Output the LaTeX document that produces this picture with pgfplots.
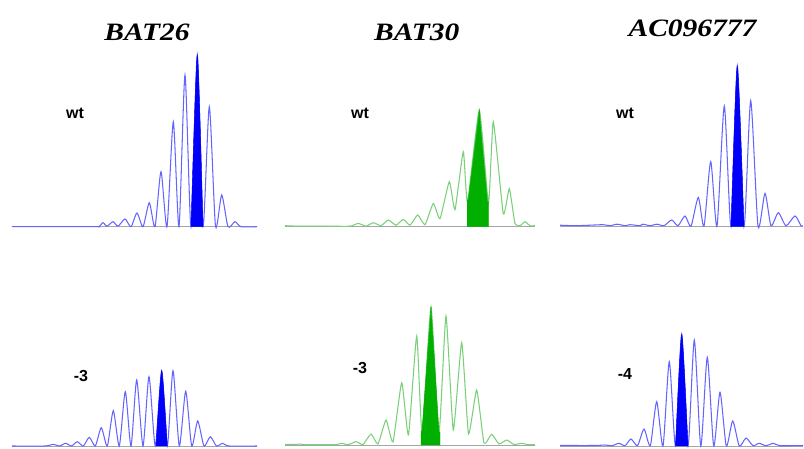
\documentclass[border=0pt]{standalone}
\usepackage{pgfplots}
\pgfplotsset{compat=1.18}
\usepackage{graphicx}
\usepackage{fontspec}
\setmainfont{Liberation Serif}
\setsansfont{Liberation Sans}
\definecolor{trblue}{RGB}{100,100,255}
\definecolor{fillblue}{RGB}{0,0,250}
\definecolor{trgreen}{RGB}{120,208,120}
\definecolor{fillgreen}{RGB}{0,175,0}
\definecolor{basegray}{RGB}{165,165,165}
\pgfplotsset{
  panel/.style={hide axis, x=1pt, y=1pt, anchor=south west, clip=false, ymin=0},
  trace/.style={smooth, tension=0.4, line width=1.05pt, no marks},
  gtrace/.style={smooth, tension=0.28, line width=1.05pt, no marks},
}
\tikzset{
  ttl/.style={font=\fontsize{25}{30}\selectfont\bfseries\itshape},
  lbl/.style={font=\fontsize{16}{18}\selectfont\sffamily\bfseries},
}
\newcommand{\ttltext}[1]{\scalebox{1.18}[1]{#1}}
\begin{document}
\begin{tikzpicture}
\path[use as bounding box] (0,0) rectangle (804pt,448pt);
% ---------- BAT26 wt ----------
\begin{axis}[panel, at={(12pt,221.3pt)}, xmin=12, xmax=257, ymax=180]
\addplot[basegray, line width=0.8pt] coordinates {(12,0) (257,0)};
\addplot[trace, trblue] coordinates {(12,0) (95,0) (99,0) (103,4) (107,0.5) (113,5) (118,0.5) (125,7.7) (131,0) (137,13.7) (143,0) (149.3,24) (155,0) (161,55) (167,0) (173.3,105) (179,0) (185,151.7) (191,0) (197.3,171.7) (203,0) (209.3,120) (215.5,0.5) (221.7,31.7) (228,0) (235,5) (241,0) (257,0)};
\addplot[fillblue, fill=fillblue, smooth, tension=0.4] coordinates {(191,0) (197.3,171.7) (203,0)} \closedcycle;
\node[ttl] at (axis cs:147,194.7) {\ttltext{BAT26}};
\node[lbl] at (axis cs:75,113.7) {wt};
\end{axis}
% ---------- BAT30 wt ----------
\begin{axis}[panel, at={(285pt,221.3pt)}, xmin=285, xmax=535, ymax=180]
\addplot[basegray, line width=0.8pt] coordinates {(285,0) (535,0)};
\addplot[gtrace, trgreen] coordinates {(285,1) (300,0.5) (330,0.5) (350,0.5) (358.3,3.3) (366,0.5) (373.3,4) (381,1) (388.3,6.7) (396,1.5) (403.3,7.3) (410,1.5) (417.7,11.7) (425,2) (433.3,23.3) (440,8) (449.3,45) (455,17) (463.3,75) (467.5,25) (479.3,116.7) (488.5,24) (493.3,105) (503.3,13) (509.3,38) (515,3) (520,1) (525,5) (530,1) (535,1)};
\addplot[fillgreen, fill=fillgreen, draw=fillgreen] coordinates {(467.2,27) (468,25) (479.3,116.7) (487.5,25) (488.3,25)} \closedcycle;
\node[ttl] at (axis cs:416.7,194.7) {\ttltext{BAT30}};
\node[lbl] at (axis cs:360,113.7) {wt};
\end{axis}
% ---------- AC096777 wt ----------
\begin{axis}[panel, at={(560pt,221.3pt)}, xmin=560, xmax=803, ymax=180]
\addplot[basegray, line width=0.8pt] coordinates {(560,0) (803,0)};
\addplot[trace, trblue] coordinates {(560,1.5) (575,1) (590,1.5) (603,2) (610,1) (617,2.5) (625,1) (630,2) (640,1) (643,2.5) (650,1) (657,2.5) (664,1) (671.7,6.7) (678,1) (685,10.7) (691,0.5) (698.3,29.3) (704,0.5) (710.7,65) (717,0.5) (724.3,120.7) (731,0) (737.3,160.7) (744,0) (750.7,126) (758,0.5) (765,33.3) (771,1) (778.3,14) (786,1) (795,10.7) (801,1) (803,1)};
\addplot[fillblue, fill=fillblue, smooth, tension=0.4] coordinates {(731,0) (737.3,160.7) (744,0)} \closedcycle;
\node[ttl] at (axis cs:692.5,198.7) {\ttltext{AC096777}};
\node[lbl] at (axis cs:625,113.7) {wt};
\end{axis}
% ---------- BAT26 -3 ----------
\begin{axis}[panel, at={(12pt,2pt)}, xmin=12, xmax=257, ymax=145]
\addplot[basegray, line width=0.8pt] coordinates {(12,0) (257,0)};
\addplot[trace, trblue] coordinates {(12,0) (45,0) (53.3,1.7) (59.5,0) (65.7,2.7) (71.5,0) (77.3,4.3) (83.3,0) (89.3,8.7) (95.3,0) (101.3,18.3) (107.3,0) (113.3,35.3) (119.3,0) (125.3,54.3) (131,0) (136.7,66) (143,0) (149,69.3) (155.3,0) (161.7,75.3) (167.3,0) (173,75.3) (179.3,0) (185.7,54.7) (191.7,0) (197.7,25) (204,0) (210.3,9.3) (216.5,0) (222.7,2.7) (229,0) (257,0)};
\addplot[fillblue, fill=fillblue, smooth, tension=0.4] coordinates {(156,0) (161.7,75.3) (167.3,0)} \closedcycle;
\node[lbl] at (axis cs:81,70) {-3};
\end{axis}
% ---------- BAT30 -3 ----------
\begin{axis}[panel, at={(285pt,3pt)}, xmin=285, xmax=535, ymax=145]
\addplot[basegray, line width=0.8pt] coordinates {(285,0) (535,0)};
\addplot[gtrace, trgreen] coordinates {(285,0.5) (295,0.5) (300,1) (305,0.3) (335,0.3) (341.7,1.7) (348,0.3) (356,3.3) (363,0.5) (371,11) (378,1) (386,25) (393,3) (401.7,62.3) (408.5,10) (416.7,109) (422,13) (431,138.3) (439,12) (446,129) (453.3,15) (461.7,102.3) (468.5,11) (476.7,55) (484,2) (491.7,10.7) (499,1) (506.7,5) (514,0.5) (521.7,1.7) (528,0.3) (535,0.3)};
\addplot[fillgreen, fill=fillgreen, draw=fillgreen] coordinates {(421,14) (422,13) (431,138.3) (439,12) (440,13)} \closedcycle;
\node[lbl] at (axis cs:360,77) {-3};
\end{axis}
% ---------- AC096777 -4 ----------
\begin{axis}[panel, at={(560pt,2pt)}, xmin=560, xmax=803, ymax=145]
\addplot[basegray, line width=0.8pt] coordinates {(560,0) (803,0)};
\addplot[trace, trblue] coordinates {(560,0.5) (595,0.5) (605,1) (612,0.3) (619,2.7) (625,0.3) (631,7) (637.5,0.3) (644,17) (650.3,0.3) (656.7,44.3) (663,0) (669.3,84.3) (675.5,0) (681.7,111.7) (688,0) (694.3,106) (700.8,0) (707.3,88.7) (713.7,0) (720,53.7) (726.3,0) (732.7,25) (739.3,0) (746,8) (753,0.3) (759,2.7) (766,0.3) (773.3,2.7) (780,0.3) (803,0.5)};
\addplot[fillblue, fill=fillblue, smooth, tension=0.4] coordinates {(675.5,0) (681.7,111.7) (688,0)} \closedcycle;
\node[lbl] at (axis cs:625,72) {-4};
\end{axis}
\end{tikzpicture}
\end{document}
